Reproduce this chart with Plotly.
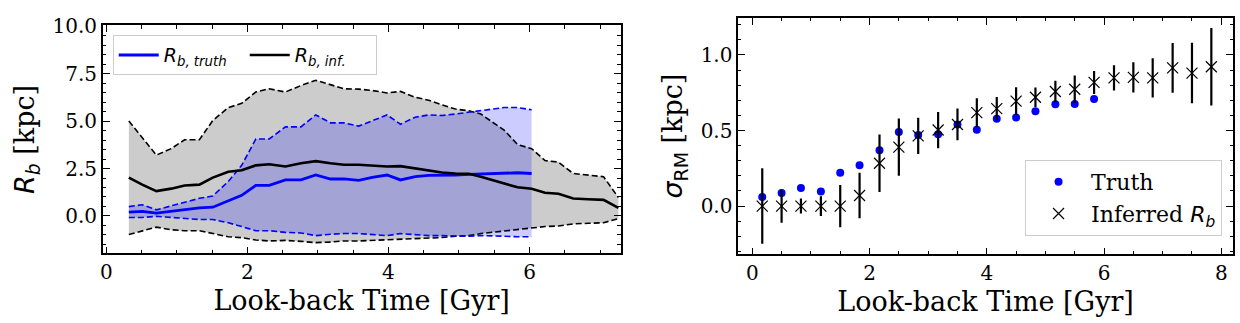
import plotly.graph_objects as go

# ---------------- Left panel data ----------------
t_left = [0.32, 0.51, 0.71, 0.92, 1.11, 1.32, 1.51, 1.73, 1.92, 2.12,
          2.31, 2.54, 2.76, 2.97, 3.18, 3.37, 3.58, 3.77, 3.98, 4.17,
          4.38, 4.57, 4.76, 4.95, 5.14, 5.31, 5.47, 5.64, 5.83, 6.03,
          6.22, 6.41, 6.62, 6.83, 7.05, 7.26]
inf_hi = [5.01, 4.14, 3.21, 3.55, 4.02, 4.02, 5.04, 5.72, 5.94, 6.54,
          6.71, 6.54, 6.88, 7.16, 6.94, 6.71, 6.69, 6.62, 6.49, 6.57,
          6.26, 6.11, 5.86, 5.64, 5.55, 5.38, 4.96, 4.53, 3.77, 3.55,
          2.92, 2.84, 2.24, 2.16, 2.07, 0.97]
inf_med = [2.02, 1.65, 1.31, 1.44, 1.61, 1.65, 2.02, 2.33, 2.41, 2.67,
           2.73, 2.61, 2.78, 2.89, 2.78, 2.70, 2.70, 2.67, 2.61, 2.63,
           2.50, 2.41, 2.29, 2.24, 2.22, 2.07, 1.90, 1.73, 1.51, 1.43,
           1.22, 1.17, 0.92, 0.88, 0.85, 0.42]
inf_lo = [-0.98, -0.78, -0.59, -0.73, -0.78, -0.78, -0.93, -1.10, -1.15, -1.27,
          -1.32, -1.29, -1.34, -1.41, -1.38, -1.32, -1.32, -1.29, -1.27, -1.24,
          -1.21, -1.17, -1.14, -1.07, -1.04, -0.93, -0.87, -0.81, -0.73, -0.65,
          -0.56, -0.53, -0.42, -0.39, -0.36, -0.14]
tr_hi = [0.49, 0.59, 0.32, 0.54, 0.71, 0.93, 1.05, 1.82, 2.67, 4.06,
         4.06, 4.70, 4.70, 5.33, 4.91, 4.91, 4.74, 5.01, 5.33, 4.84,
         5.21, 5.33, 5.30, 5.38, 5.47, 5.55, 5.64, 5.72, 5.72, 5.60]
tr_med = [0.20, 0.24, 0.15, 0.24, 0.32, 0.42, 0.46, 0.80, 1.09, 1.61,
          1.61, 1.90, 1.90, 2.16, 1.95, 1.95, 1.88, 2.04, 2.16, 1.90,
          2.07, 2.14, 2.14, 2.16, 2.19, 2.21, 2.22, 2.26, 2.28, 2.24]
tr_lo = [-0.08, -0.08, -0.02, -0.08, -0.14, -0.19, -0.19, -0.36, -0.56, -0.78,
         -0.78, -0.87, -0.90, -1.04, -0.97, -0.93, -0.93, -0.97, -1.04, -0.93,
         -0.98, -1.04, -1.04, -1.07, -1.07, -1.04, -1.04, -1.07, -1.10, -1.10]
t_truth = t_left[:len(tr_med)]

# ---------------- Right panel data ----------------
t_right = [0.17, 0.50, 0.83, 1.17, 1.50, 1.83, 2.17, 2.50, 2.83, 3.17,
           3.50, 3.83, 4.17, 4.50, 4.83, 5.17, 5.50, 5.83, 6.17, 6.50,
           6.83, 7.17, 7.50, 7.83]
sig_truth = [0.06, 0.087, 0.12, 0.096, 0.22, 0.27, 0.37, 0.49, 0.47, 0.475,
             0.54, 0.505, 0.577, 0.586, 0.628, 0.673, 0.675, 0.709]
sig_inf = [0.0, 0.0, 0.0, 0.0, 0.0, 0.07, 0.283, 0.39, 0.464, 0.503,
           0.54, 0.618, 0.645, 0.694, 0.72, 0.758, 0.773, 0.818, 0.848, 0.852,
           0.848, 0.914, 0.88, 0.922]
sig_inf_err = [0.25, 0.11, 0.05, 0.065, 0.14, 0.15, 0.19, 0.19, 0.12, 0.12,
               0.105, 0.095, 0.077, 0.092, 0.064, 0.071, 0.091, 0.076, 0.083, 0.10,
               0.13, 0.165, 0.20, 0.257]

BLUE = "#0000ff"
SERIF = "DejaVu Serif"
SANS = "DejaVu Sans"

fig = go.Figure()

# fills (drawn first)
fig.add_trace(go.Scatter(x=t_left, y=inf_lo, mode="lines", line=dict(width=0),
                         showlegend=False, hoverinfo="skip", xaxis="x", yaxis="y"))
fig.add_trace(go.Scatter(x=t_left, y=inf_hi, mode="lines", line=dict(width=0),
                         fill="tonexty", fillcolor="rgba(0,0,0,0.2)",
                         showlegend=False, hoverinfo="skip", xaxis="x", yaxis="y"))
fig.add_trace(go.Scatter(x=t_truth, y=tr_lo, mode="lines", line=dict(width=0),
                         showlegend=False, hoverinfo="skip", xaxis="x", yaxis="y"))
fig.add_trace(go.Scatter(x=t_truth, y=tr_hi, mode="lines", line=dict(width=0),
                         fill="tonexty", fillcolor="rgba(0,0,255,0.2)",
                         showlegend=False, hoverinfo="skip", xaxis="x", yaxis="y"))

# dashed boundaries
for yy, col, xx in [(inf_hi, "black", t_left), (inf_lo, "black", t_left),
                    (tr_hi, BLUE, t_truth), (tr_lo, BLUE, t_truth)]:
    fig.add_trace(go.Scatter(x=xx, y=yy, mode="lines",
                             line=dict(color=col, width=1.6, dash="6px,3px"),
                             showlegend=False, xaxis="x", yaxis="y"))

# medians
fig.add_trace(go.Scatter(x=t_truth, y=tr_med, mode="lines",
                         line=dict(color=BLUE, width=2.8),
                         name="<i>R</i><sub><i>b, truth</i></sub>",
                         legend="legend", xaxis="x", yaxis="y"))
fig.add_trace(go.Scatter(x=t_left, y=inf_med, mode="lines",
                         line=dict(color="black", width=2.6),
                         name="<i>R</i><sub><i>b, inf.</i></sub>",
                         legend="legend", xaxis="x", yaxis="y"))

# right panel
fig.add_trace(go.Scatter(x=t_right[:len(sig_truth)], y=sig_truth, mode="markers",
                         marker=dict(color=BLUE, size=8),
                         name="Truth", legend="legend2", xaxis="x2", yaxis="y2"))
fig.add_trace(go.Scatter(x=t_right, y=sig_inf, mode="markers",
                         marker=dict(symbol="x-thin", size=11, color="black",
                                     line=dict(color="black", width=1.2)),
                         error_y=dict(type="data", array=sig_inf_err, thickness=2.2,
                                      width=0, color="black"),
                         name="Inferred <span style='font-family:DejaVu Sans'><i>R</i><sub><i>b</i></sub></span>",
                         legend="legend2", xaxis="x2", yaxis="y2"))

W, H = 1240, 323
axis_common = dict(showline=True, linecolor="black", linewidth=1.5, mirror="allticks",
                   ticks="inside", ticklen=7, tickwidth=1.2, tickcolor="black",
                   showgrid=False, zeroline=False,
                   tickfont=dict(family=SERIF, size=20, color="black"))

fig.update_layout(
    width=W, height=H,
    margin=dict(l=0, r=0, t=0, b=0),
    paper_bgcolor="white", plot_bgcolor="white",
    xaxis=dict(domain=[100 / W, 619 / W], range=[-0.05, 7.29], anchor="y",
               tickvals=[0, 2, 4, 6],
               minor=dict(dtick=0.5, ticks="inside", ticklen=3.5, tickcolor="black", tickwidth=1),
               title=dict(text="Look-back Time [Gyr]", font=dict(family=SERIF, size=27, color="black"),
                          standoff=8),
               **axis_common),
    yaxis=dict(domain=[1 - 251 / H, 1 - 15 / H], range=[-1.98, 10.05], anchor="x",
               tickvals=[0, 2.5, 5, 7.5, 10], tickformat=".1f",
               minor=dict(dtick=0.5, ticks="inside", ticklen=3.5, tickcolor="black", tickwidth=1),
               title=dict(text="<span style='font-family:DejaVu Sans'><i>R</i><sub><i>b</i></sub></span> [kpc]",
                          font=dict(family=SERIF, size=27, color="black"), standoff=10),
               **axis_common),
    xaxis2=dict(domain=[737 / W, 1233 / W], range=[-0.24, 8.2], anchor="y2",
                tickvals=[0, 2, 4, 6, 8],
                minor=dict(dtick=0.5, ticks="inside", ticklen=3.5, tickcolor="black", tickwidth=1),
                title=dict(text="Look-back Time [Gyr]", font=dict(family=SERIF, size=27, color="black"),
                           standoff=8),
                **axis_common),
    yaxis2=dict(domain=[1 - 252 / H, 1 - 7 / H], range=[-0.32, 1.246], anchor="x2",
                tickvals=[0, 0.5, 1.0], tickformat=".1f",
                minor=dict(dtick=0.1, ticks="inside", ticklen=3.5, tickcolor="black", tickwidth=1),
                title=dict(text="<span style='font-family:DejaVu Sans'><i>σ</i><sub>RM</sub></span> [kpc]",
                           font=dict(family=SERIF, size=27, color="black"), standoff=10),
                **axis_common),
    legend=dict(x=110 / W, y=1 - 25 / H, xanchor="left", yanchor="top",
                orientation="h", traceorder="normal",
                bgcolor="rgba(255,255,255,0.85)",
                bordercolor="#cccccc", borderwidth=1,
                font=dict(family=SANS, size=19, color="black"),
                itemwidth=40, entrywidth=76, entrywidthmode="pixels"),
    legend2=dict(x=1222 / W, y=1 - 233 / H, xanchor="right", yanchor="bottom",
                 orientation="v", traceorder="normal",
                 bgcolor="rgba(255,255,255,0.85)",
                 bordercolor="#cccccc", borderwidth=1,
                 itemwidth=55,
                 font=dict(family=SERIF, size=22, color="black")),
)

fig.write_html("out.html")
